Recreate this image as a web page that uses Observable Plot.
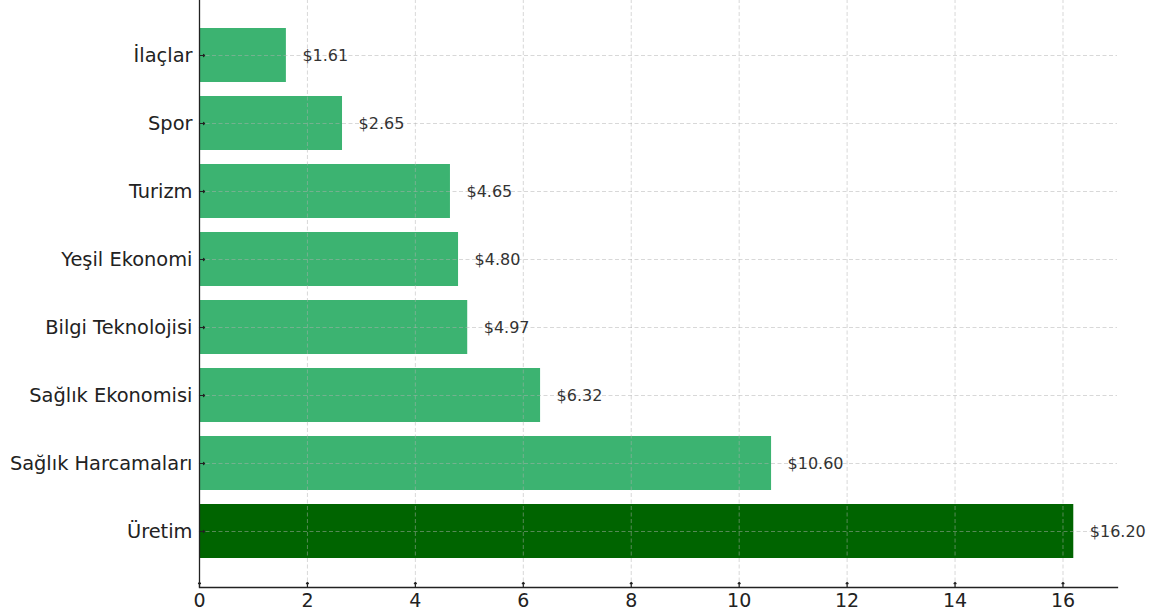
<!DOCTYPE html>
<html>
<head>
<meta charset="utf-8">
<script src="https://cdn.jsdelivr.net/npm/d3@7"></script>
<script src="https://cdn.jsdelivr.net/npm/@observablehq/plot@0.6"></script>
<style>
  html, body { margin: 0; padding: 0; background: #fff; }
  #chart { width: 1154px; height: 613px; }
</style>
</head>
<body>
<div id="chart"></div>
<script>
const categories = ["İlaçlar", "Spor", "Turizm", "Yeşil Ekonomi", "Bilgi Teknolojisi", "Sağlık Ekonomisi", "Sağlık Harcamaları", "Üretim"];
const values = [1.61, 2.65, 4.65, 4.80, 4.97, 6.32, 10.60, 16.20];
const barColors = ["#3cb371", "#3cb371", "#3cb371", "#3cb371", "#3cb371", "#3cb371", "#3cb371", "#006400"];
const xTicks = [0, 2, 4, 6, 8, 10, 12, 14, 16];

const data = categories.map((c, i) => ({category: c, value: values[i], color: barColors[i]}));

const chart = Plot.plot({
  width: 1154,
  height: 613,
  marginLeft: 199,
  marginRight: 37,
  marginTop: -1,
  marginBottom: 26,
  style: {fontFamily: "DejaVu Sans", background: "#fff", color: "#222", overflow: "visible"},
  x: {domain: [0, 17.01], ticks: xTicks},
  y: {type: "band", domain: categories, paddingInner: 0.2, paddingOuter: 0.39, align: 0.5},
  marks: [
    Plot.barX(data, {x: "value", y: "category", fill: "color"}),
    Plot.gridX(xTicks, {stroke: "#b0b0b0", strokeOpacity: 0.55, strokeDasharray: "4,2.5", strokeWidth: 0.9}),
    Plot.gridY(categories, {stroke: "#b0b0b0", strokeOpacity: 0.55, strokeDasharray: "4,2.5", strokeWidth: 0.9}),
    Plot.text(data, {x: "value", y: "category", text: d => "$" + d.value.toFixed(2), dx: 16, textAnchor: "start", fontSize: 16, fill: "#333"}),
    Plot.axisX(xTicks, {tickSize: 0, tickPadding: 6, fontSize: 19, fill: "#222", label: null}),
    Plot.axisY({tickSize: 0, tickPadding: 7, fontSize: 19.4, fill: "#222", label: null}),
    Plot.vector(categories, {x: () => 0, y: d => d, length: 5, rotate: 90, anchor: "start", stroke: "#222", strokeWidth: 1.2}),
    Plot.vector(xTicks, {x: d => d, frameAnchor: "bottom", length: 5, rotate: 0, anchor: "start", stroke: "#222", strokeWidth: 1.2}),
    Plot.ruleX([0], {stroke: "#222", strokeWidth: 1.3}),
    Plot.frame({anchor: "bottom", stroke: "#222", strokeWidth: 1.3})
  ]
});
document.getElementById("chart").appendChild(chart);
</script>
</body>
</html>
